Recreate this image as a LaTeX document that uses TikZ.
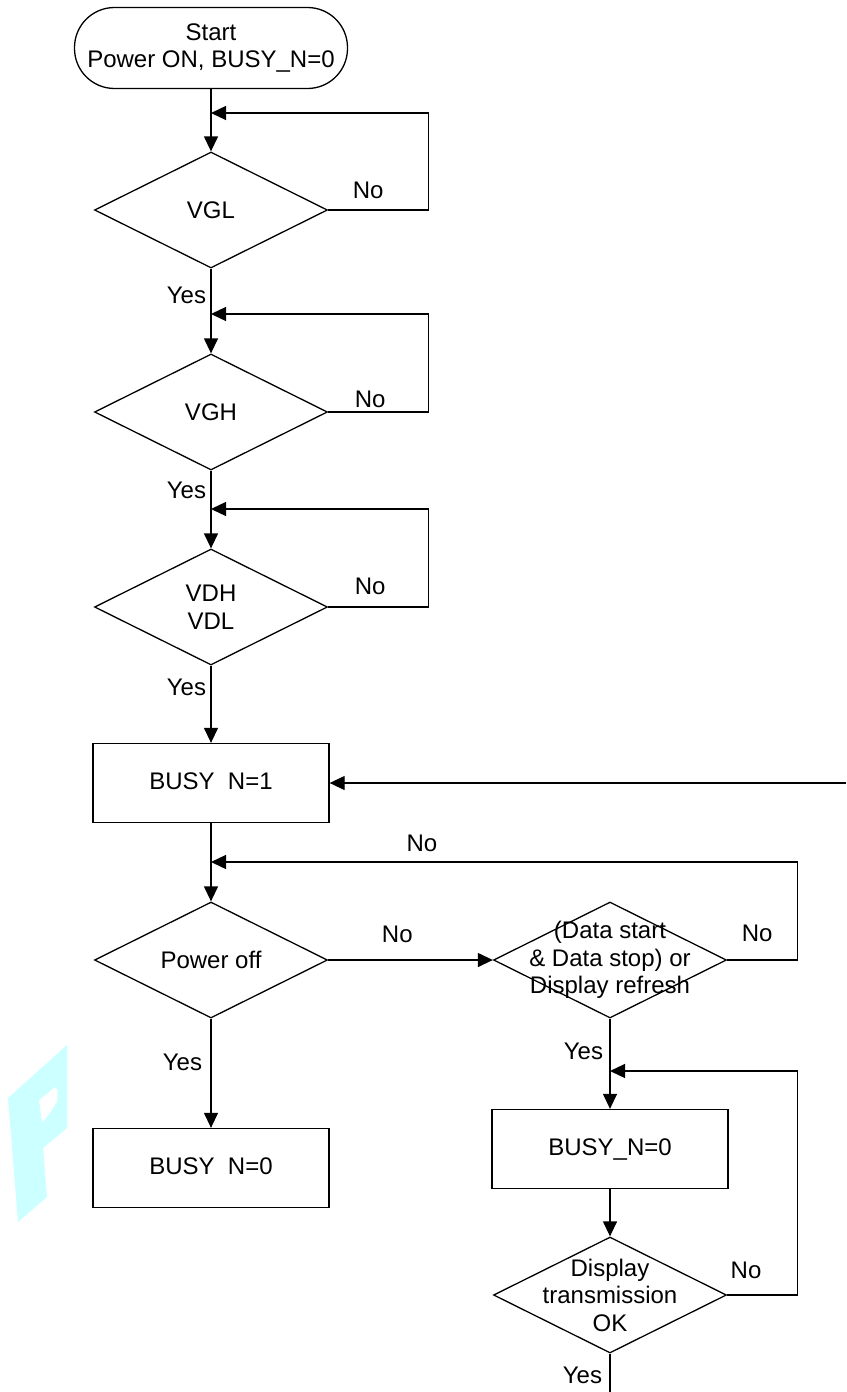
\documentclass[tikz,border=0pt]{standalone}
\usepackage{fontspec}
\setmainfont{Liberation Sans}
\usetikzlibrary{shapes.geometric,arrows.meta,positioning}
\definecolor{wmark}{RGB}{204,255,255}

\begin{document}
\begin{tikzpicture}[
    x=1pt, y=-1pt,
    font=\fontsize{24}{27.5}\selectfont,
    line width=1.3pt,
    decision/.style={diamond, draw, minimum width=233pt, minimum height=116pt, inner sep=-40pt, align=center},
    block/.style={rectangle, draw, minimum width=236pt, minimum height=79pt, align=center},
    terminal/.style={rectangle, draw, rounded corners=40pt, minimum width=273pt, minimum height=81pt, inner sep=2pt, align=center},
    line/.style={draw, -{Triangle[length=15pt,width=14pt]}}
]
\useasboundingbox (0,0) rectangle (846,1392);

\fill [wmark, even odd rule] (8,1098) -- (67,1045) -- (67,1128) -- (43,1148) -- (47,1197) -- (18,1222) -- cycle
    (39,1100) -- (55,1087) -- (58,1090) -- (57,1102) -- (50,1113) -- (42,1123) -- cycle;

\node [terminal] (start) at (211,48) {Start\\Power ON, BUSY\_N=0};
\node [decision] (vgl) at (211,210) {VGL};
\node [decision] (vgh) at (211,412) {VGH};
\node [decision] (vdhl) at (211,607) {VDH\\VDL};
\node [block] (busyhi) at (211,783) {BUSY\phantom{\_}N=1};
\node [decision] (poweroff) at (211,960) {Power off};
\node [decision] (refresh) at (610,960) {(Data start\\\& Data stop) or\\Display refresh};
\node [block] (busyoff) at (211,1168) {BUSY\phantom{\_}N=0};
\node [block] (busylo) at (610,1149) {BUSY\_N=0};
\node [decision] (transok) at (610,1295) {Display\\transmission\\OK};

\coordinate (vglin) at (211,113);
\coordinate (vghin) at (211,314);
\coordinate (vdhin) at (211,509);
\coordinate (pwrin) at (211,862);
\coordinate (lowin) at (610,1071);
\coordinate (resume) at (846,783);
\coordinate (done) at (610,1392);

\path [line] (start) -- (vgl);
\path [line] (vgl.east) -- node [above=7pt, pos=0.4] {No} ++(100,0) |- (vglin);
\path [line] (vgl) -- node [left=1pt, pos=0.32] {Yes} (vgh);
\path [line] (vgh.east) -- node [above=0pt, pos=0.42] {No} ++(100,0) |- (vghin);
\path [line] (vgh) -- node [left=1pt, pos=0.25] {Yes} (vdhl);
\path [line] (vdhl.east) -- node [above=8pt, pos=0.42] {No} ++(100,0) |- (vdhin);
\path [line] (vdhl) -- node [left=1pt, pos=0.28] {Yes} (busyhi);
\path [line] (resume) -- (busyhi);
\path [line] (busyhi) -- (poweroff);
\path [line] (poweroff) -- node [above=13pt, pos=0.42] {No} (refresh);
\path [line] (refresh.east) -- node [above=14pt, pos=0.43] {No} ++(70,0) |- node [above=6pt, pos=0.82] {No} (pwrin);
\path [line] (poweroff) -- node [left=5pt, pos=0.4] {Yes} (busyoff);
\path [line] (refresh) -- node [left=3pt, pos=0.36] {Yes} (busylo);
\path [line] (busylo) -- (transok);
\path [line] (transok.east) -- node [above=12pt, pos=0.27] {No} ++(70,0) |- (lowin);
\draw (transok) -- node [left=4pt, pos=0.56] {Yes} (done);

\end{tikzpicture}
\end{document}
